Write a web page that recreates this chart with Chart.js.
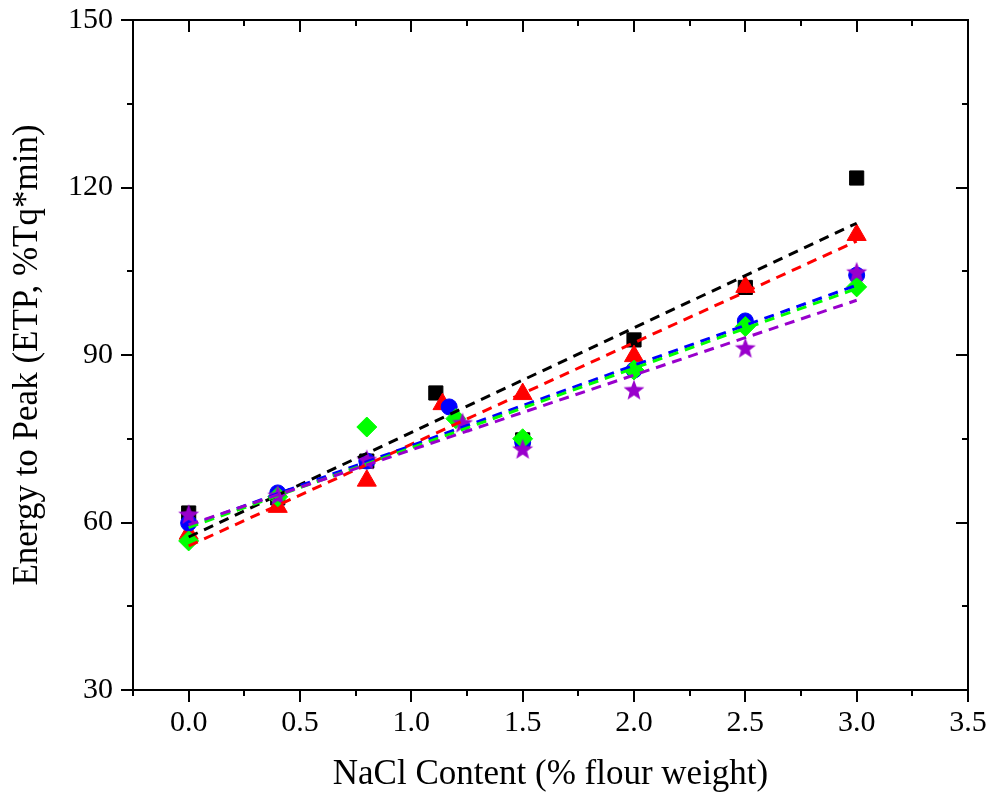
<!DOCTYPE html>
<html>
<head>
<meta charset="utf-8">
<script src="https://cdn.jsdelivr.net/npm/chart.js@4.4.1/dist/chart.umd.min.js"></script>
<style>
  html, body { margin: 0; padding: 0; background: #ffffff; }
  #wrap { width: 991px; height: 798px; position: relative; }
</style>
</head>
<body>
<div id="wrap"><canvas id="c" width="991" height="798"></canvas></div>
<script>
// ---- data ----
const xBlack  = [0, 0.4, 0.8, 1.11, 1.5, 2.0, 2.5, 3.0];
const yBlack  = [61.7, 64.4, 71.0, 83.2, 74.8, 92.7, 102.1, 121.7];
const xRed    = [0, 0.4, 0.8, 1.14, 1.5, 2.0, 2.5, 3.0];
const yRed    = [58.0, 62.8, 67.5, 81.2, 83.0, 89.8, 102.2, 111.5];
const xBlue   = [0, 0.4, 0.8, 1.17, 1.5, 2.0, 2.5, 3.0];
const yBlue   = [59.9, 65.3, 71.0, 80.7, 74.4, 87.3, 96.1, 104.3];
const xGreen  = [0, 0.4, 0.8, 1.20, 1.5, 2.0, 2.5, 3.0];
const yGreen  = [56.7, 64.6, 77.1, 78.6, 75.0, 87.3, 95.1, 102.2];
const xPurple = [0, 0.4, 0.8, 1.23, 1.5, 2.0, 2.5, 3.0];
const yPurple = [61.5, 64.9, 71.3, 77.9, 73.2, 83.8, 91.3, 104.9];

// linear-fit end points (x = 0 and x = 3)
const fitX      = [0, 3.0];
const fitBlack  = [57.4, 113.6];
const fitRed    = [55.8, 110.4];
const fitBlue   = [59.4, 102.5];
const fitGreen  = [59.1, 101.9];
const fitPurple = [59.6, 99.8];

const xTicks = [0, 0.5, 1.0, 1.5, 2.0, 2.5, 3.0, 3.5];
const yTicks = [30, 60, 90, 120, 150];

const COL = { black: '#000000', red: '#ff0000', blue: '#0000ff', green: '#00ff00', purple: '#9900cc' };

function pts(xs, ys) { return xs.map((x, i) => ({ x: x, y: ys[i] })); }

// filled star marker
function makeStar(color, R) {
  const size = Math.ceil(R * 2 + 2);
  const cv = document.createElement('canvas');
  cv.width = size; cv.height = size;
  const g = cv.getContext('2d');
  const cx = size / 2, cy = size / 2 + R * 0.1, r = R * 0.42;
  g.beginPath();
  for (let i = 0; i < 10; i++) {
    const rr = i % 2 === 0 ? R : r;
    const a = -Math.PI / 2 + i * Math.PI / 5;
    const px = cx + rr * Math.cos(a), py = cy + rr * Math.sin(a);
    if (i === 0) g.moveTo(px, py); else g.lineTo(px, py);
  }
  g.closePath();
  g.fillStyle = color;
  g.fill();
  return cv;
}
const starImg = makeStar(COL.purple, 11);

function scatterDs(label, xs, ys, color, style, radius, order) {
  return {
    type: 'scatter', label: label, data: pts(xs, ys),
    pointStyle: style, pointRadius: radius, pointHoverRadius: radius,
    backgroundColor: color, borderColor: color, pointBorderWidth: 1,
    showLine: false, order: order
  };
}
function fitDs(label, ys, color, order) {
  return {
    type: 'scatter', label: label, data: pts(fitX, ys),
    showLine: true, borderColor: color, borderWidth: 3, borderDash: [10, 7],
    pointRadius: 0, fill: false, order: order
  };
}

const frameTicks = {
  id: 'frameTicks',
  afterDraw(chart) {
    const ctx = chart.ctx, xs = chart.scales.x, ys = chart.scales.y;
    const L = xs.left, R = xs.right, T = ys.top, B = ys.bottom;
    ctx.save();
    ctx.strokeStyle = '#000';
    ctx.lineWidth = 2;
    ctx.lineCap = 'butt';
    ctx.strokeRect(L, T, R - L, B - T);
    const MAJ = 12, MIN = 6;
    ctx.beginPath();
    // x ticks: bottom outward, top inward
    for (let v = -0.25; v <= 3.5001; v += 0.25) {
      const px = Math.round(xs.getPixelForValue(v));
      const major = Math.abs(v / 0.5 - Math.round(v / 0.5)) < 1e-6;
      const len = major ? MAJ : MIN;
      ctx.moveTo(px, B); ctx.lineTo(px, B + len);
      ctx.moveTo(px, T); ctx.lineTo(px, T + len);
    }
    // y ticks: left outward, right inward
    for (let v = 30; v <= 150.001; v += 15) {
      const py = Math.round(ys.getPixelForValue(v));
      const major = (v % 30) === 0;
      const len = major ? MAJ : MIN;
      ctx.moveTo(L, py); ctx.lineTo(L - len, py);
      ctx.moveTo(R, py); ctx.lineTo(R - len, py);
    }
    ctx.stroke();
    ctx.restore();
  }
};

const FONT = "'Liberation Serif', 'Times New Roman', serif";

new Chart(document.getElementById('c'), {
  type: 'scatter',
  data: {
    datasets: [
      fitDs('fit purple', fitPurple, COL.purple, 0),
      fitDs('fit green', fitGreen, COL.green, 1),
      fitDs('fit blue', fitBlue, COL.blue, 2),
      fitDs('fit red', fitRed, COL.red, 3),
      fitDs('fit black', fitBlack, COL.black, 4),
      scatterDs('purple', xPurple, yPurple, COL.purple, starImg, 11, 5),
      scatterDs('green', xGreen, yGreen, COL.green, 'rectRot', 10, 6),
      scatterDs('blue', xBlue, yBlue, COL.blue, 'circle', 8, 7),
      scatterDs('red', xRed, yRed, COL.red, 'triangle', 11, 8),
      scatterDs('black', xBlack, yBlack, COL.black, 'rect', 10, 9)
    ]
  },
  options: {
    responsive: false,
    animation: false,
    events: [],
    layout: { padding: { left: 0, top: 20, right: 23, bottom: 0 } },
    plugins: { legend: { display: false }, tooltip: { enabled: false } },
    scales: {
      x: {
        type: 'linear', min: -0.25, max: 3.5,
        afterBuildTicks: (s) => { s.ticks = xTicks.map(v => ({ value: v })); },
        afterFit: (s) => { s.height = 108; s.paddingLeft = 0; s.paddingRight = 0; },
        grid: { display: false, drawTicks: false },
        border: { display: false },
        ticks: {
          padding: 15, color: '#000',
          font: { family: FONT, size: 30 },
          callback: (v) => Number(v).toFixed(1)
        },
        title: {
          display: true, text: 'NaCl Content (% flour weight)', color: '#000',
          font: { family: FONT, size: 35 }, padding: { top: 0, bottom: 2 }
        }
      },
      y: {
        type: 'linear', min: 30, max: 150,
        afterBuildTicks: (s) => { s.ticks = yTicks.map(v => ({ value: v })); },
        afterFit: (s) => { s.width = 133; s.paddingTop = 0; s.paddingBottom = 0; },
        grid: { display: false, drawTicks: false },
        border: { display: false },
        ticks: {
          padding: 20, color: '#000',
          font: { family: FONT, size: 30 },
          callback: (v) => String(v)
        },
        title: {
          display: true, text: 'Energy to Peak (ETP, %Tq*min)', color: '#000',
          font: { family: FONT, size: 35 }, padding: { top: 7, bottom: 0 }
        }
      }
    }
  },
  plugins: [frameTicks]
});
</script>
</body>
</html>
